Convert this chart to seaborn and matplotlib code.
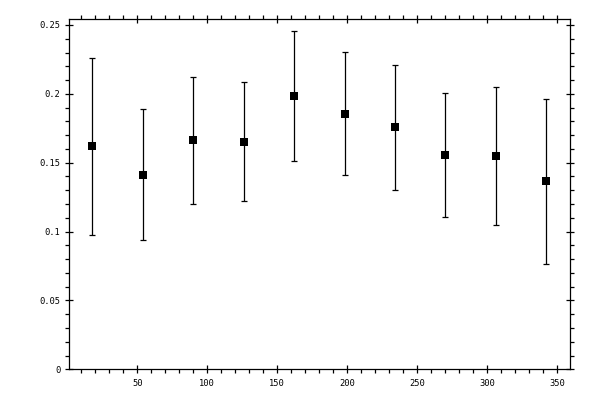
import numpy as np
import pandas as pd
import matplotlib
matplotlib.use("Agg")
import matplotlib.pyplot as plt
from matplotlib.ticker import MultipleLocator, FuncFormatter
import seaborn as sns

# значения
angle = [18, 54, 90, 126, 162, 198, 234, 270, 306, 342]
value = [0.1621, 0.1409, 0.1663, 0.1648, 0.1982, 0.1852, 0.1757, 0.1554, 0.1547, 0.1367]
low = [0.0973, 0.0937, 0.1198, 0.1220, 0.1510, 0.1409, 0.1300, 0.1106, 0.1046, 0.0762]
high = [0.2263, 0.1888, 0.2125, 0.2084, 0.2454, 0.2302, 0.2207, 0.2004, 0.2050, 0.1961]

df = pd.DataFrame({"angle": angle, "value": value, "low": low, "high": high})

sns.set_style("ticks")
plt.rcParams['font.family'] = ['DejaVu Sans Mono', 'DejaVu Sans']

fig = plt.figure(figsize=(6, 4), dpi=100)
ax = fig.add_axes([0.1155, 0.0768, 0.8345, 0.8752])

# усы
yerr = np.array([df["value"] - df["low"], df["high"] - df["value"]])
ax.errorbar(df["angle"], df["value"], yerr=yerr, fmt="none", ecolor="black",
            elinewidth=0.9, capsize=2.0, capthick=0.9)
sns.scatterplot(data=df, x="angle", y="value", marker="s", s=30, color="black",
                edgecolor="black", linewidth=0, ax=ax, zorder=3)

ax.set_xlim(1.5, 359)
ax.set_ylim(0, 0.2542)
ax.xaxis.set_major_locator(MultipleLocator(50))
ax.xaxis.set_minor_locator(MultipleLocator(10))
ax.yaxis.set_major_locator(MultipleLocator(0.05))
ax.yaxis.set_minor_locator(MultipleLocator(0.01))
ax.yaxis.set_major_formatter(FuncFormatter(lambda v, p: "%g" % round(v, 4)))
ax.xaxis.set_major_formatter(FuncFormatter(lambda v, p: "%g" % v))

for s in ax.spines.values():
    s.set_visible(True)
    s.set_linewidth(0.9)
    s.set_color("black")

ax.tick_params(which="both", top=True, right=True, color="black", width=0.9)
ax.tick_params(which="major", direction="inout", length=5.6, labelsize=6.3, labelcolor="black")
ax.tick_params(which="minor", direction="out", length=2.6)
ax.tick_params(axis="y", which="major", pad=3.5)
ax.tick_params(axis="x", which="major", pad=4.5)

ax.set_xlabel("")
ax.set_ylabel("")
ax.grid(False)

fig.savefig("out.png", dpi=100)
